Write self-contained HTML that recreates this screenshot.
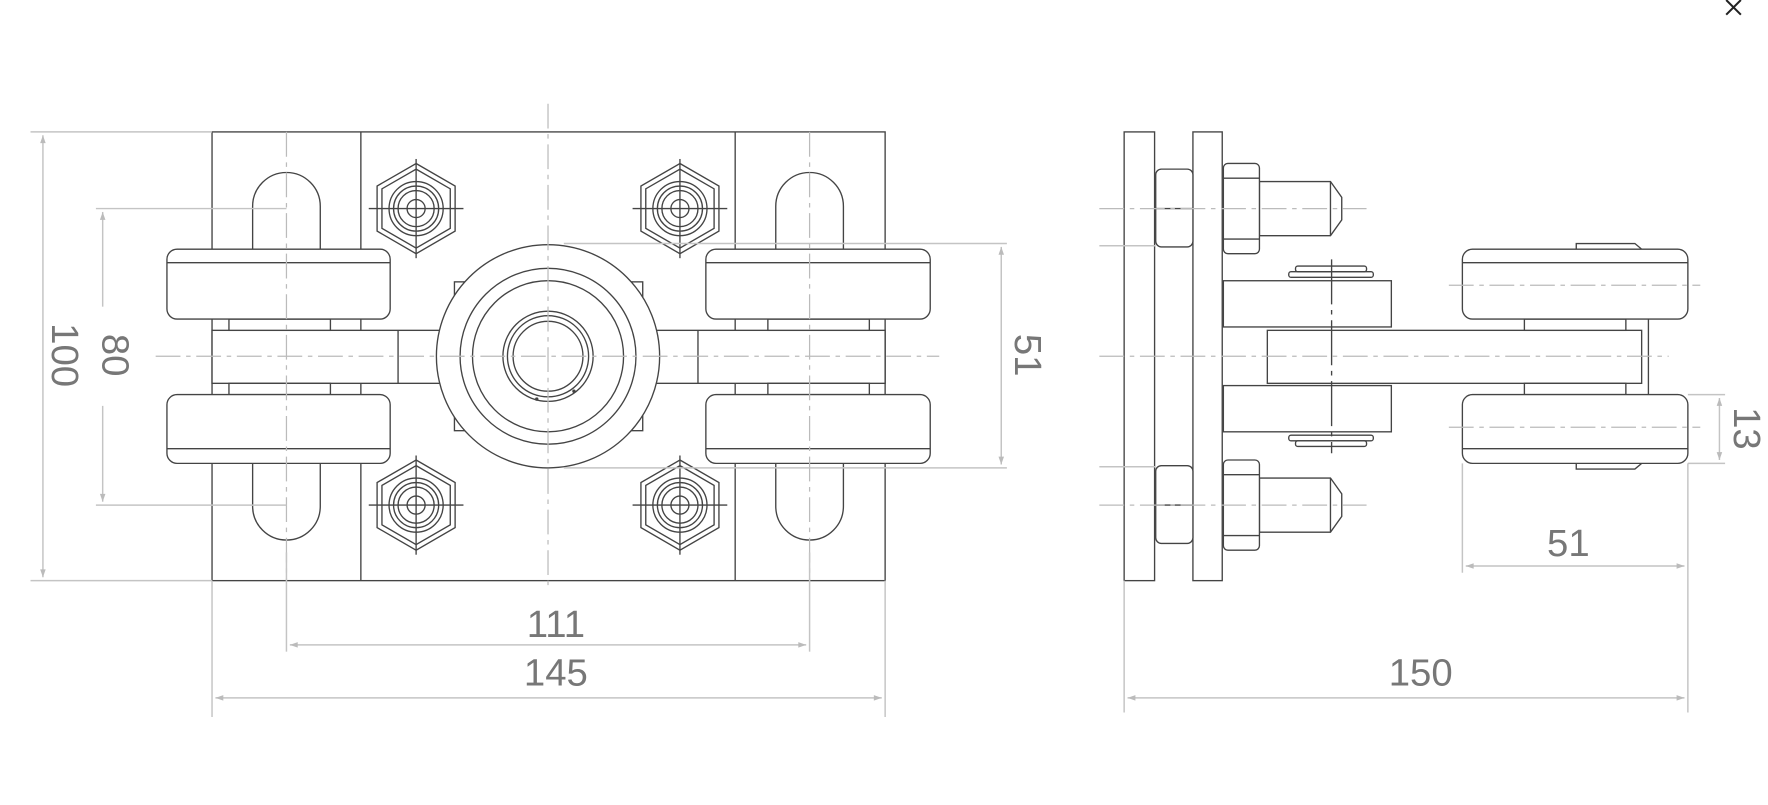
<!DOCTYPE html>
<html><head><meta charset="utf-8"><style>
html,body{margin:0;padding:0;background:#fff;width:1768px;height:805px;overflow:hidden}
svg{display:block}
.l{fill:none;stroke:#444;stroke-width:1.2}
.w{fill:#fff;stroke:#444;stroke-width:1.2}
.d{fill:none;stroke:#c4c4c4;stroke-width:1.3}
.c{fill:none;stroke:#bbb;stroke-width:1.1;stroke-dasharray:22 5 4 5}
.t{fill:#777;font-family:"Liberation Sans",sans-serif;font-size:34px}
.a{fill:#bbb}
</style></head><body>
<svg width="1768" height="805" viewBox="0 0 1568 714" xmlns="http://www.w3.org/2000/svg">
<defs>
<marker id="ar" viewBox="0 0 10 10" refX="10" refY="5" markerWidth="12" markerHeight="7" orient="auto-start-reverse" markerUnits="userSpaceOnUse"><path d="M0,1.5 L10,5 L0,8.5z" fill="#bbb"/></marker>
<g id="nut">
<polygon class="l" points="0,-40 34.6,-20 34.6,20 0,40 -34.6,20 -34.6,-20"/>
<polygon class="l" points="0,-35 30.3,-17.5 30.3,17.5 0,35 -30.3,17.5 -30.3,-17.5"/>
<circle class="l" r="24"/><circle class="l" r="20"/><circle class="l" r="16"/><circle class="l" r="8"/>
<line class="l" x1="-42" y1="0" x2="42" y2="0"/><line class="l" x1="0" y1="-44" x2="0" y2="44"/>
</g>
<g id="bolt">
<path class="w" d="M1117,-24 L1180,-24 L1190,-10 L1190,10 L1180,24 L1117,24z"/>
<line class="l" x1="1180" y1="-24" x2="1180" y2="24"/>
<rect class="w" x="1085" y="-40" width="32" height="80" rx="4"/>
<line class="l" x1="1085" y1="-27" x2="1117" y2="-27"/><line class="l" x1="1085" y1="27" x2="1117" y2="27"/>
</g>
</defs>
<!-- close X -->
<path d="M1531,0 L1544,13 M1544,0 L1531,13" stroke="#222" stroke-width="1.8"/>

<!-- ===== LEFT VIEW ===== -->
<rect class="w" x="188" y="117" width="597" height="398"/>
<line class="l" x1="320" y1="117" x2="320" y2="515"/>
<line class="l" x1="652" y1="117" x2="652" y2="515"/>
<!-- slots -->
<path class="w" d="M224,221 L224,183 A30,30 0 0 1 284,183 L284,221"/>
<path class="w" d="M224,411 L224,449 A30,30 0 0 0 284,449 L284,411"/>
<path class="w" d="M688,221 L688,183 A30,30 0 0 1 748,183 L748,221"/>
<path class="w" d="M688,411 L688,449 A30,30 0 0 0 748,449 L748,411"/>
<!-- axle -->
<rect class="w" x="188" y="293" width="597" height="47"/>
<line class="l" x1="353" y1="293" x2="353" y2="340"/>
<line class="l" x1="619" y1="293" x2="619" y2="340"/>
<rect class="w" x="203" y="283" width="90" height="10"/><rect class="w" x="203" y="340" width="90" height="10"/>
<rect class="w" x="681" y="283" width="90" height="10"/><rect class="w" x="681" y="340" width="90" height="10"/>
<!-- rollers -->
<rect class="w" x="148" y="221" width="198" height="62" rx="9"/><line class="l" x1="148" y1="233" x2="346" y2="233"/>
<rect class="w" x="148" y="350" width="198" height="61" rx="9"/><line class="l" x1="148" y1="398" x2="346" y2="398"/>
<rect class="w" x="626" y="221" width="199" height="62" rx="9"/><line class="l" x1="626" y1="233" x2="825" y2="233"/>
<rect class="w" x="626" y="350" width="199" height="61" rx="9"/><line class="l" x1="626" y1="398" x2="825" y2="398"/>
<!-- center hub -->
<rect class="w" x="403" y="250" width="167" height="132"/>
<circle class="w" cx="486" cy="316" r="99"/>
<circle class="l" cx="486" cy="316" r="78"/>
<circle class="l" cx="486" cy="316" r="67"/>
<circle class="l" cx="486" cy="316" r="40"/>
<circle class="l" cx="486" cy="316" r="36"/>
<circle class="l" cx="486" cy="316" r="31" stroke-width="2"/>
<circle cx="476" cy="354" r="1.5" fill="#444"/><circle cx="509" cy="347" r="1.5" fill="#444"/>
<!-- nuts -->
<use href="#nut" x="369" y="185"/><use href="#nut" x="603" y="185"/>
<use href="#nut" x="369" y="448"/><use href="#nut" x="603" y="448"/>
<!-- centerlines -->
<line class="c" x1="486" y1="92" x2="486" y2="522"/>
<line class="c" x1="138" y1="316" x2="833" y2="316"/>
<line class="c" x1="254" y1="117" x2="254" y2="515"/>
<line class="c" x1="718" y1="117" x2="718" y2="515"/>
<!-- dims left -->
<line class="d" x1="27" y1="117" x2="188" y2="117"/><line class="d" x1="27" y1="515" x2="188" y2="515"/>
<line class="d" x1="38" y1="120" x2="38" y2="512" marker-start="url(#ar)" marker-end="url(#ar)"/>
<text class="t" transform="translate(46,315) rotate(90)" text-anchor="middle">100</text>
<line class="d" x1="85" y1="185" x2="254" y2="185"/><line class="d" x1="85" y1="448" x2="254" y2="448"/>
<line class="d" x1="91" y1="188" x2="91" y2="272" marker-start="url(#ar)"/>
<line class="d" x1="91" y1="360" x2="91" y2="445" marker-end="url(#ar)"/>
<text class="t" transform="translate(91,315) rotate(90)" text-anchor="middle">80</text>
<line class="d" x1="500" y1="216" x2="893" y2="216"/><line class="d" x1="500" y1="415" x2="893" y2="415"/>
<line class="d" x1="888" y1="219" x2="888" y2="412" marker-start="url(#ar)" marker-end="url(#ar)"/>
<text class="t" transform="translate(900,315) rotate(90)" text-anchor="middle">51</text>
<line class="d" x1="254" y1="490" x2="254" y2="578"/><line class="d" x1="718" y1="490" x2="718" y2="578"/>
<line class="d" x1="257" y1="572" x2="715" y2="572" marker-start="url(#ar)" marker-end="url(#ar)"/>
<text class="t" x="493" y="565" text-anchor="middle">111</text>
<line class="d" x1="188" y1="515" x2="188" y2="636"/><line class="d" x1="785" y1="515" x2="785" y2="636"/>
<line class="d" x1="191" y1="619" x2="782" y2="619" marker-start="url(#ar)" marker-end="url(#ar)"/>
<text class="t" x="493" y="608" text-anchor="middle">145</text>

<!-- ===== RIGHT VIEW ===== -->
<rect class="w" x="997" y="117" width="27" height="398"/>
<rect class="w" x="1058" y="117" width="26" height="398"/>
<rect class="w" x="1025" y="150" width="33" height="69" rx="5"/><line class="l" x1="1025" y1="185" x2="1058" y2="185"/>
<rect class="w" x="1025" y="413" width="33" height="69" rx="5"/><line class="l" x1="1025" y1="448" x2="1058" y2="448"/>
<use href="#bolt" x="0" y="185"/><use href="#bolt" x="0" y="448"/>
<!-- bracket -->
<rect class="w" x="1085" y="249" width="149" height="41"/>
<rect class="w" x="1085" y="342" width="149" height="41"/>
<rect class="w" x="1143" y="241" width="75" height="5" rx="2"/><rect class="w" x="1149" y="236" width="63" height="5" rx="2"/>
<rect class="w" x="1143" y="386" width="75" height="5" rx="2"/><rect class="w" x="1149" y="391" width="63" height="5" rx="2"/>
<!-- bar -->
<rect class="w" x="1124" y="293" width="332" height="47"/>
<line class="l" x1="1462" y1="283" x2="1462" y2="350" stroke-width="2"/>
<rect class="w" x="1352" y="283" width="90" height="10"/><rect class="w" x="1352" y="340" width="90" height="10"/>
<path class="w" d="M1398,221 L1398,216 L1450,216 L1456,221z"/>
<path class="w" d="M1398,411 L1398,416 L1450,416 L1456,411z"/>
<rect class="w" x="1297" y="221" width="200" height="62" rx="9"/><line class="l" x1="1297" y1="233" x2="1497" y2="233"/>
<rect class="w" x="1297" y="350" width="200" height="61" rx="9"/><line class="l" x1="1297" y1="398" x2="1497" y2="398"/>
<!-- centerlines -->
<line class="c" x1="975" y1="185" x2="1212" y2="185"/>
<line class="c" x1="975" y1="448" x2="1212" y2="448"/>
<line class="c" x1="975" y1="316" x2="1480" y2="316"/>
<line class="c" x1="1285" y1="253" x2="1508" y2="253"/>
<line class="c" x1="1285" y1="379" x2="1508" y2="379"/>
<line x1="1181" y1="230" x2="1181" y2="402" stroke="#444" stroke-width="1.2" stroke-dasharray="40 5 4 5"/>
<line class="d" x1="975" y1="218" x2="1025" y2="218"/><line class="d" x1="975" y1="414" x2="1025" y2="414"/>
<!-- dims right -->
<line class="d" x1="1497" y1="350" x2="1530" y2="350"/><line class="d" x1="1497" y1="411" x2="1530" y2="411"/>
<line class="d" x1="1525" y1="353" x2="1525" y2="408" marker-start="url(#ar)" marker-end="url(#ar)"/>
<text class="t" transform="translate(1538,380) rotate(90)" text-anchor="middle">13</text>
<line class="d" x1="1297" y1="411" x2="1297" y2="508"/>
<line class="d" x1="1300" y1="502" x2="1494" y2="502" marker-start="url(#ar)" marker-end="url(#ar)"/>
<text class="t" x="1391" y="493" text-anchor="middle">51</text>
<line class="d" x1="997" y1="515" x2="997" y2="632"/><line class="d" x1="1497" y1="411" x2="1497" y2="632"/>
<line class="d" x1="1000" y1="619" x2="1494" y2="619" marker-start="url(#ar)" marker-end="url(#ar)"/>
<text class="t" x="1260" y="608" text-anchor="middle">150</text>
</svg>
</body></html>
